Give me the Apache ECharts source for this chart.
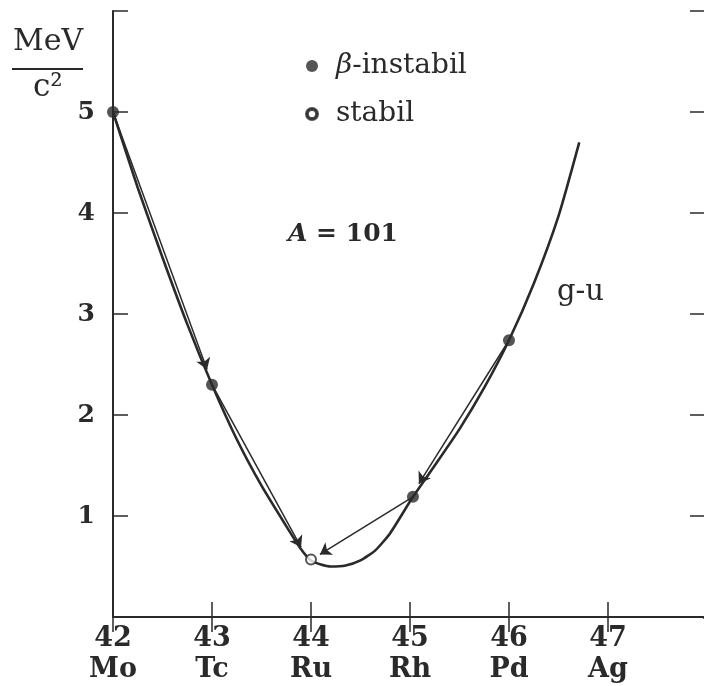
<!DOCTYPE html>
<html>
<head>
<meta charset="utf-8">
<script src="https://cdn.jsdelivr.net/npm/echarts@6/dist/echarts.min.js"></script>
<style>
html,body{margin:0;padding:0;background:#fff;}
#c{width:704px;height:686px;}
</style>
</head>
<body>
<div id="c"></div>
<script>
// ---- data ----
const zTicks = [42, 43, 44, 45, 46, 47];
const elements = ['Mo', 'Tc', 'Ru', 'Rh', 'Pd', 'Ag'];
const yTicks = [1, 2, 3, 4, 5];

// g-u mass parabola (hand-drawn curve)
const curveX = [42.0, 42.25, 42.5, 42.75, 43.0, 43.25, 43.5, 43.75, 43.9, 44.0, 44.1, 44.2, 44.35, 44.5, 44.65, 44.8, 45.03, 45.25, 45.5, 45.75, 46.0, 46.25, 46.5, 46.71];
const curveY = [5.00, 4.25, 3.56, 2.90, 2.30, 1.76, 1.30, 0.90, 0.67, 0.56, 0.52, 0.50, 0.51, 0.56, 0.66, 0.83, 1.19, 1.50, 1.86, 2.27, 2.74, 3.30, 3.97, 4.70];

// beta-unstable nuclides (filled)
const unstableX = [42, 43, 45.03, 46];
const unstableY = [5.0, 2.30, 1.19, 2.74];
// stable nuclide (open)
const stableX = [44];
const stableY = [0.57];

// decay arrows: start and tip
const arrowFromX = [42, 43, 45.03, 46];
const arrowFromY = [5.0, 2.30, 1.19, 2.74];
const arrowToX = [42.95, 43.90, 44.09, 45.09];
const arrowToY = [2.45, 0.69, 0.62, 1.32];

const ink = '#2a2a2a';
const serif = 'DejaVu Serif';

const chart = echarts.init(document.getElementById('c'));
const pairs = (xs, ys) => xs.map((x, i) => [x, ys[i]]);

chart.setOption({
  animation: false,
  backgroundColor: '#fff',
  grid: { left: 113, top: 11, right: 0, bottom: 69, containLabel: false },
  xAxis: [
    {
      type: 'value', min: 42, max: 47.97, interval: 1, position: 'bottom',
      axisLine: { show: true, lineStyle: { color: ink, width: 2 } },
      axisTick: { show: true, inside: true, length: 15, lineStyle: { color: ink, width: 1.5 } },
      splitLine: { show: false },
      axisLabel: {
        margin: 6,
        showMaxLabel: false,
        formatter: v => {
          const i = zTicks.indexOf(v);
          if (i < 0) return '';
          return '{n|' + zTicks[i] + '}\n{e|' + elements[i] + '}';
        },
        rich: {
          n: { fontFamily: serif, fontWeight: 'bold', fontSize: 27, color: ink, lineHeight: 31 },
          e: { fontFamily: serif, fontWeight: 'bold', fontSize: 27, color: ink, lineHeight: 31 }
        }
      }
    },
    {
      type: 'value', min: 42, max: 47.97, interval: 1, position: 'top',
      axisLine: { show: true, lineStyle: { color: ink, width: 2 } },
      axisTick: { show: true, inside: true, length: 15, lineStyle: { color: ink, width: 1.5 } },
      axisLabel: { show: false },
      splitLine: { show: false }
    }
  ],
  yAxis: [
    {
      type: 'value', min: 0, max: 6, interval: 1, position: 'left',
      axisLine: { show: true, lineStyle: { color: ink, width: 2 } },
      axisTick: { show: true, inside: true, length: 15, lineStyle: { color: ink, width: 1.5 } },
      splitLine: { show: false },
      axisLabel: {
        margin: 18,
        fontFamily: serif, fontWeight: 'bold', fontSize: 25, color: ink,
        formatter: v => (yTicks.indexOf(v) >= 0 ? String(v) : '')
      }
    },
    {
      type: 'value', min: 0, max: 6, interval: 1, position: 'right',
      axisLine: { show: false },
      axisTick: { show: true, inside: true, length: 14, lineStyle: { color: ink, width: 1.5 } },
      axisLabel: { show: false },
      splitLine: { show: false }
    }
  ],
  legend: {
    orient: 'vertical',
    left: 300, top: 45,
    itemWidth: 12, itemHeight: 12,
    itemGap: 16,
    textStyle: {
      fontFamily: serif, fontSize: 28, color: ink, lineHeight: 32,
      rich: {
        sp: { width: 13 },
        g: { fontFamily: serif, fontSize: 28, fontStyle: 'italic', color: ink }
      }
    },
    formatter: name => (name === 'β-instabil' ? '{sp|}{g|β}-instabil' : '{sp|}' + name),
    data: [
      { name: 'β-instabil', icon: 'circle', itemStyle: { color: ink } },
      { name: 'stabil', icon: 'path://M0,0 m-5,0 a5,5 0 1,0 10,0 a5,5 0 1,0 -10,0 M0,0 m-3.4,0 a3.4,3.4 0 1,1 6.8,0 a3.4,3.4 0 1,1 -6.8,0', itemStyle: { color: ink } }
    ]
  },
  graphic: [
    { type: 'text', left: 13, top: 27, style: { text: 'MeV', font: '30px "DejaVu Serif"', fill: ink } },
    { type: 'line', shape: { x1: 12, y1: 69, x2: 83, y2: 69 }, style: { stroke: ink, lineWidth: 2 } },
    { type: 'text', left: 33, top: 72, style: { text: 'c²', font: '31px "DejaVu Serif"', fill: ink } },
    { type: 'text', left: 288, top: 222, style: {
        text: '{a|A} = 101', font: 'bold 25px "DejaVu Serif"', fill: ink,
        rich: { a: { fontFamily: serif, fontWeight: 'bold', fontStyle: 'italic', fontSize: 25, color: ink } }
    } },
    { type: 'text', left: 557, top: 278, style: { text: 'g-u', font: '29px "DejaVu Serif"', fill: ink } },
    { type: 'rect', shape: { x: 696, y: 619, width: 10, height: 30 }, style: { fill: '#fff' }, z: 100 }
  ],
  series: [
    {
      name: 'g-u', type: 'line', data: pairs(curveX, curveY),
      smooth: 0.2, showSymbol: false, symbol: 'none',
      lineStyle: { color: ink, width: 2.6 }, z: 2, silent: true
    },
    {
      name: 'Zerfall', type: 'lines', coordinateSystem: 'cartesian2d',
      symbol: ['none', 'arrow'], symbolSize: [0, 11],
      lineStyle: { color: ink, width: 1.5, opacity: 1 },
      data: arrowFromX.map((x, i) => ({ coords: [[x, arrowFromY[i]], [arrowToX[i], arrowToY[i]]] })),
      z: 3, silent: true
    },
    {
      name: 'β-instabil', type: 'scatter', data: pairs(unstableX, unstableY),
      symbol: 'circle', symbolSize: 12,
      itemStyle: { color: ink }, z: 4
    },
    {
      name: 'stabil', type: 'scatter', data: pairs(stableX, stableY),
      symbol: 'circle', symbolSize: 10,
      itemStyle: { color: '#fff', borderColor: ink, borderWidth: 2 }, z: 5
    }
  ]
});
</script>
</body>
</html>
